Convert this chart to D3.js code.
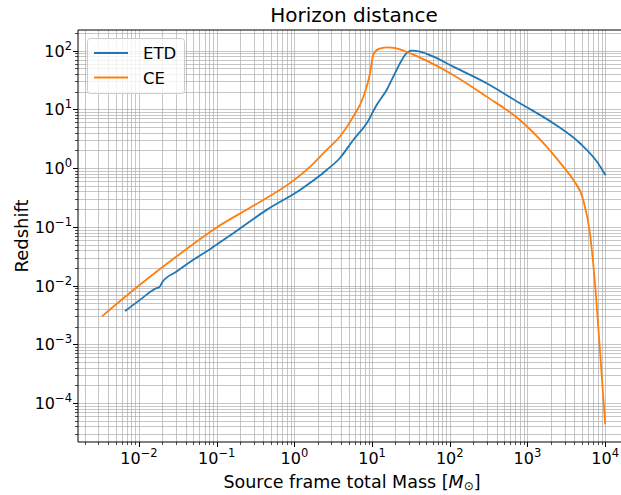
<!DOCTYPE html>
<html><head><meta charset="utf-8">
<script src="https://cdn.jsdelivr.net/npm/d3@7"></script>
<style>
body{margin:0;background:#fff;}
text{font-family:"DejaVu Sans",sans-serif;fill:#000;}
</style></head>
<body><svg id="c" width="621" height="495"></svg>
<script>
const etdMass = [0.00675,0.0103,0.0169,0.0182,0.020,0.0305,0.050,0.082,0.164,0.44,1.18,2.606,3.83,5.73,8.53,11.46,15.4,18.75,22.9,26.5,32.4,41.4,61.4,111,298,800,2148,4742,7943,10000];
const etdZ    = [0.00375,0.00571,0.00904,0.00933,0.01148,0.0173,0.0274,0.0417,0.078,0.1945,0.4256,0.931,1.472,3.02,5.81,11.9,21.4,36.1,61.1,84.5,100,96.2,79.1,53.5,27.9,12.7,5.81,2.65,1.26,0.776];
const ceMass  = [0.0034,0.01,0.0316,0.1,0.316,1,1.585,2.51,3.98,5.75,7.76,9.44,10.35,12.0,15.5,20,29.5,50,100,298,800,1766,2891,3890,5224,6368,7396,8570,10000];
const ceZ     = [0.00305,0.01,0.0324,0.0977,0.24,0.63,1.047,1.95,3.63,7.59,16.6,41.7,85.1,106,114,110,92.3,67.6,41.7,16.5,6.6,2.32,1.06,0.63,0.288,0.078,0.011,0.0008,0.000045];
const seriesNames = ["ETD","CE"];
const colors = ["#1f77b4","#ff7f0e"];
const xTickExp = [-2,-1,0,1,2,3,4];
const yTickExp = [-4,-3,-2,-1,0,1,2];

const svg = d3.select("#c");
const L=78, R=630, T=30, B=442;
const x = d3.scaleLog().domain([Math.pow(10,-2.785),Math.pow(10,4.32)]).range([L,R]);
const y = d3.scaleLog().domain([Math.pow(10,-4.664),Math.pow(10,2.352)]).range([B,T]);

svg.append("defs").append("clipPath").attr("id","pa").append("rect")
  .attr("x",L).attr("y",T).attr("width",R-L).attr("height",B-T);

const xAll=[], yAll=[];
for(let e=-3;e<=4;e++) for(let m=1;m<=9;m++){const v=m*Math.pow(10,e); if(v>=x.domain()[0]&&v<=x.domain()[1]) xAll.push({v,major:m===1});}
for(let e=-5;e<=2;e++) for(let m=1;m<=9;m++){const v=m*Math.pow(10,e); if(v>=y.domain()[0]&&v<=y.domain()[1]) yAll.push({v,major:m===1});}

const g = svg.append("g").attr("clip-path","url(#pa)");
g.selectAll(".gx").data(xAll).join("line")
  .attr("x1",d=>Math.round(x(d.v))+0.5).attr("x2",d=>Math.round(x(d.v))+0.5).attr("y1",T).attr("y2",B)
  .attr("stroke","#b0b0b0").attr("stroke-width",0.8).attr("opacity",0.9);
g.selectAll(".gy").data(yAll).join("line")
  .attr("y1",d=>Math.round(y(d.v))+0.5).attr("y2",d=>Math.round(y(d.v))+0.5).attr("x1",L).attr("x2",R)
  .attr("stroke","#b0b0b0").attr("stroke-width",0.8).attr("opacity",0.9);

const line = d3.line().x(d=>x(d[0])).y(d=>y(d[1])).curve(d3.curveMonotoneX);
const data = [d3.zip(etdMass,etdZ), d3.zip(ceMass,ceZ)];
data.forEach((dd,i)=>{
  g.append("path").attr("d",line(dd)).attr("fill","none").attr("stroke",colors[i])
   .attr("stroke-width",1.8).attr("stroke-linejoin","round").attr("stroke-linecap","square");
});

svg.append("line").attr("x1",L).attr("x2",L).attr("y1",T).attr("y2",B).attr("stroke","#000").attr("stroke-width",1);
svg.append("line").attr("x1",L).attr("x2",R).attr("y1",B).attr("y2",B).attr("stroke","#000").attr("stroke-width",1);
svg.append("line").attr("x1",L).attr("x2",R).attr("y1",T).attr("y2",T).attr("stroke","#000").attr("stroke-width",1);
svg.append("line").attr("x1",R).attr("x2",R).attr("y1",T).attr("y2",B).attr("stroke","#000").attr("stroke-width",1);

svg.selectAll(".tx").data(xAll).join("line")
  .attr("x1",d=>Math.round(x(d.v))+0.5).attr("x2",d=>Math.round(x(d.v))+0.5)
  .attr("y1",B).attr("y2",d=>B+(d.major?5:3)).attr("stroke","#000").attr("stroke-width",d=>d.major?1:0.7);
svg.selectAll(".ty").data(yAll).join("line")
  .attr("y1",d=>Math.round(y(d.v))+0.5).attr("y2",d=>Math.round(y(d.v))+0.5)
  .attr("x1",L).attr("x2",d=>L-(d.major?5:3)).attr("stroke","#000").attr("stroke-width",d=>d.major?1:0.7);

function expLabel(sel, e){
  sel.append("tspan").text("10");
  sel.append("tspan").attr("dy",-7).attr("font-size",11.5).text(String(e).replace("-","\u2212"));
}
xTickExp.forEach(e=>{
  const t=svg.append("text").attr("x",x(Math.pow(10,e))).attr("y",464).attr("text-anchor","middle").attr("font-size",16);
  expLabel(t,e);
});
yTickExp.forEach(e=>{
  const t=svg.append("text").attr("x",72).attr("y",y(Math.pow(10,e))+6).attr("text-anchor","end").attr("font-size",16);
  expLabel(t,e);
});

svg.append("text").attr("x",354).attr("y",22).attr("text-anchor","middle").attr("font-size",20).text("Horizon distance");
const xl = svg.append("text").attr("x",352).attr("y",488).attr("text-anchor","middle").attr("font-size",17.5);
xl.append("tspan").text("Source frame total Mass [");
xl.append("tspan").attr("font-style","italic").text("M");
xl.append("tspan").attr("dy",2).attr("font-size",12).text("\u2299");
xl.append("tspan").attr("dy",-2).text("]");
svg.append("text").attr("transform","translate(28,236) rotate(-90)").attr("text-anchor","middle").attr("font-size",18).text("Redshift");

const lg = svg.append("g");
lg.append("rect").attr("x",87.5).attr("y",38.5).attr("width",97).attr("height",55).attr("rx",3)
  .attr("fill","#fff").attr("fill-opacity",0.8).attr("stroke","#cccccc").attr("stroke-width",1);
seriesNames.forEach((n,i)=>{
  const yy=53+i*24.5;
  lg.append("line").attr("x1",94).attr("x2",128).attr("y1",yy).attr("y2",yy).attr("stroke",colors[i]).attr("stroke-width",1.8);
  lg.append("text").attr("x",143).attr("y",yy+6).attr("font-size",16.5).text(n);
});
</script></body></html>
